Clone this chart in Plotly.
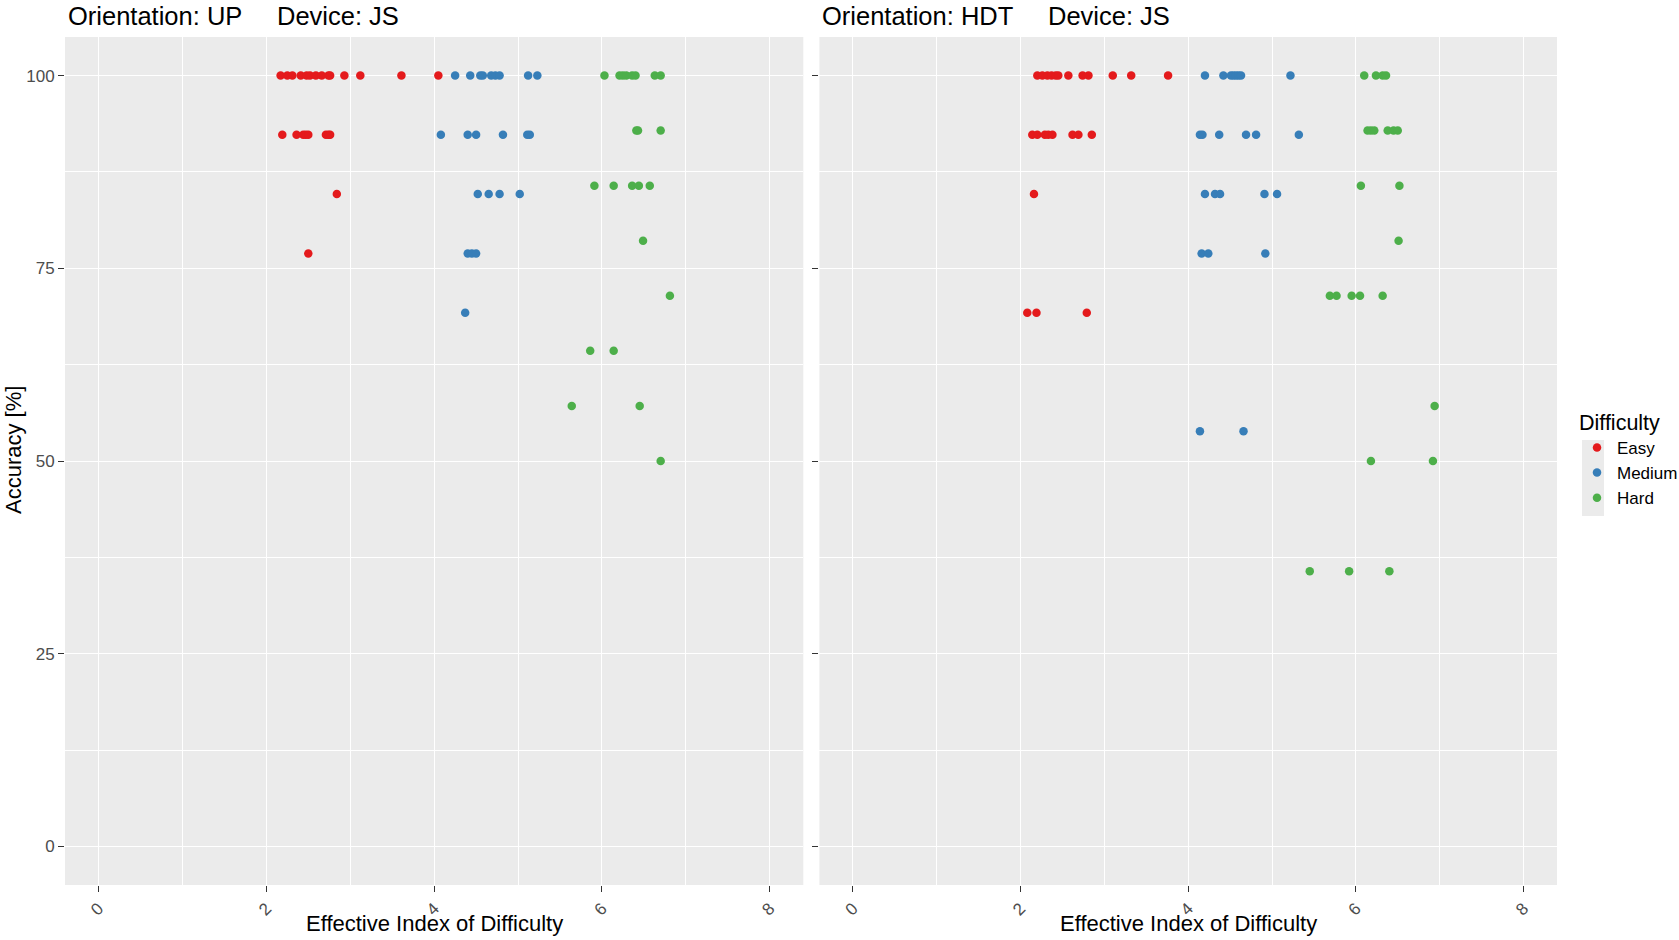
import plotly.graph_objects as go

# ---------------- data ----------------
# Orientation UP, Device JS
up_easy_x = [2.17, 2.25, 2.31, 2.41, 2.48, 2.52, 2.59, 2.66, 2.74, 2.76, 2.93, 3.12, 3.61, 4.05,
             2.19, 2.36, 2.44, 2.47, 2.50, 2.71, 2.74, 2.76,
             2.84, 2.50]
up_easy_y = [100, 100, 100, 100, 100, 100, 100, 100, 100, 100, 100, 100, 100, 100,
             92.31, 92.31, 92.31, 92.31, 92.31, 92.31, 92.31, 92.31,
             84.62, 76.92]
up_med_x = [4.25, 4.43, 4.55, 4.58, 4.68, 4.73, 4.78, 5.12, 5.23,
            4.08, 4.40, 4.50, 4.82, 5.11, 5.14,
            4.52, 4.65, 4.78, 5.02,
            4.40, 4.45, 4.50,
            4.37]
up_med_y = [100, 100, 100, 100, 100, 100, 100, 100, 100,
            92.31, 92.31, 92.31, 92.31, 92.31, 92.31,
            84.62, 84.62, 84.62, 84.62,
            76.92, 76.92, 76.92,
            69.23]
up_hard_x = [6.03, 6.21, 6.25, 6.29, 6.36, 6.40, 6.63, 6.70,
             6.41, 6.43, 6.70,
             5.91, 6.14, 6.36, 6.44, 6.57,
             6.49, 6.81, 5.86, 6.14, 5.64, 6.45, 6.70]
up_hard_y = [100, 100, 100, 100, 100, 100, 100, 100,
             92.86, 92.86, 92.86,
             85.71, 85.71, 85.71, 85.71, 85.71,
             78.57, 71.43, 64.29, 64.29, 57.14, 57.14, 50.0]

# Orientation HDT, Device JS
hdt_easy_x = [2.20, 2.26, 2.32, 2.37, 2.42, 2.45, 2.57, 2.74, 2.81, 3.10, 3.32, 3.76,
              2.14, 2.20, 2.29, 2.33, 2.38, 2.62, 2.69, 2.85,
              2.16, 2.08, 2.19, 2.79]
hdt_easy_y = [100, 100, 100, 100, 100, 100, 100, 100, 100, 100, 100, 100,
              92.31, 92.31, 92.31, 92.31, 92.31, 92.31, 92.31, 92.31,
              84.62, 69.23, 69.23, 69.23]
hdt_med_x = [4.20, 4.42, 4.51, 4.54, 4.57, 4.60, 4.63, 5.22,
             4.14, 4.17, 4.37, 4.69, 4.81, 5.32,
             4.20, 4.32, 4.38, 4.91, 5.06,
             4.16, 4.24, 4.92,
             4.14, 4.66]
hdt_med_y = [100, 100, 100, 100, 100, 100, 100, 100,
             92.31, 92.31, 92.31, 92.31, 92.31, 92.31,
             84.62, 84.62, 84.62, 84.62, 84.62,
             76.92, 76.92, 76.92,
             53.85, 53.85]
hdt_hard_x = [6.10, 6.24, 6.32, 6.36,
              6.14, 6.18, 6.22, 6.38, 6.45, 6.50,
              6.06, 6.52, 6.51,
              5.69, 5.77, 5.95, 6.05, 6.32,
              6.94, 6.18, 6.92,
              5.45, 5.92, 6.40]
hdt_hard_y = [100, 100, 100, 100,
              92.86, 92.86, 92.86, 92.86, 92.86, 92.86,
              85.71, 85.71, 78.57,
              71.43, 71.43, 71.43, 71.43, 71.43,
              57.14, 50.0, 50.0,
              35.71, 35.71, 35.71]

difficulties = ["Easy", "Medium", "Hard"]
x_ticks = [0, 2, 4, 6, 8]
x_minor = [1, 3, 5, 7]
y_ticks = [0, 25, 50, 75, 100]
y_minor = [12.5, 37.5, 62.5, 87.5]

# ---------------- style ----------------
FONT = "Liberation Sans, Arial, Helvetica, sans-serif"
COLORS = {"Easy": "#E41A1C", "Medium": "#377EB8", "Hard": "#4DAF4A"}
PANEL_BG = "#EBEBEB"

W, H = 1679, 940
ML, MR, MT, MB = 65, 122, 37, 55
PW = W - ML - MR
PH = H - MT - MB


def px_x(p):
    return (p - ML) / PW


def px_y(p):
    return (H - MB - p) / PH


fig = go.Figure()

panels = [
    ("x", "y", [(up_easy_x, up_easy_y), (up_med_x, up_med_y), (up_hard_x, up_hard_y)], True),
    ("x2", "y2", [(hdt_easy_x, hdt_easy_y), (hdt_med_x, hdt_med_y), (hdt_hard_x, hdt_hard_y)], False),
]
for xa, ya, series, show in panels:
    for name, (xs, ys) in zip(difficulties, series):
        fig.add_trace(go.Scatter(
            x=xs, y=ys, mode="markers", name=name, legendgroup=name,
            showlegend=show, xaxis=xa, yaxis=ya,
            marker=dict(size=8.5, color=COLORS[name], line=dict(width=0)),
        ))

dom_left = [0, px_x(803.3)]
dom_right = [px_x(819.4), 1]

axis_common = dict(
    showgrid=True, gridcolor="white", gridwidth=1.4,
    zeroline=False, showline=False,
    ticks="outside", ticklen=6, tickwidth=1, tickcolor="#333333",
    tickfont=dict(family=FONT, size=17, color="#4D4D4D"),
)
minor_common = dict(showgrid=True, gridcolor="white", gridwidth=0.7, ticks="")

fig.update_layout(
    width=W, height=H,
    margin=dict(l=ML, r=MR, t=MT, b=MB, autoexpand=False),
    paper_bgcolor="white", plot_bgcolor=PANEL_BG,
    font=dict(family=FONT, color="black"),
    xaxis=dict(domain=dom_left, range=[-0.4, 8.4], tickvals=x_ticks, tickangle=-45,
               minor=dict(tickvals=x_minor, **minor_common), anchor="y", **axis_common),
    xaxis2=dict(domain=dom_right, range=[-0.4, 8.4], tickvals=x_ticks, tickangle=-45,
                minor=dict(tickvals=x_minor, **minor_common), anchor="y2", **axis_common),
    yaxis=dict(domain=[0, 1], range=[-5, 105], tickvals=y_ticks, anchor="x",
               minor=dict(tickvals=y_minor, **minor_common), **axis_common),
    yaxis2=dict(domain=[0, 1], range=[-5, 105], tickvals=y_ticks, anchor="x2",
                showticklabels=False,
                minor=dict(tickvals=y_minor, **minor_common), **axis_common),
    legend=dict(
        title=dict(text="Difficulty", font=dict(family=FONT, size=21.5, color="black")),
        font=dict(family=FONT, size=17, color="black"),
        x=px_x(1577), y=px_y(402), xanchor="left", yanchor="top",
        bgcolor="rgba(0,0,0,0)", borderwidth=0, tracegroupgap=0,
    ),
)

# grey key background behind legend symbols
fig.add_shape(type="rect", xref="paper", yref="paper",
              x0=px_x(1582), x1=px_x(1604), y0=px_y(516), y1=px_y(440),
              fillcolor=PANEL_BG, line=dict(width=0), layer="below")

annotations = []
# panel titles
for txt, xp in [("Orientation: UP", 66), ("Device: JS", 275),
                ("Orientation: HDT", 820), ("Device: JS", 1046)]:
    annotations.append(dict(text=txt, xref="paper", yref="paper", x=px_x(xp), y=1,
                            xanchor="left", yanchor="bottom", yshift=5, showarrow=False,
                            font=dict(family=FONT, size=25.5, color="black")))
# x axis titles
for dom in (dom_left, dom_right):
    annotations.append(dict(text="Effective Index of Difficulty", xref="paper", yref="paper",
                            x=(dom[0] + dom[1]) / 2, y=px_y(923), xanchor="center", yanchor="middle",
                            showarrow=False, font=dict(family=FONT, size=22, color="black")))
# y axis title
annotations.append(dict(text="Accuracy [%]", xref="paper", yref="paper",
                        x=px_x(13), y=px_y(450), xanchor="center", yanchor="middle",
                        textangle=-90, showarrow=False,
                        font=dict(family=FONT, size=22, color="black")))
fig.update_layout(annotations=annotations)

fig.write_html("out.html")
